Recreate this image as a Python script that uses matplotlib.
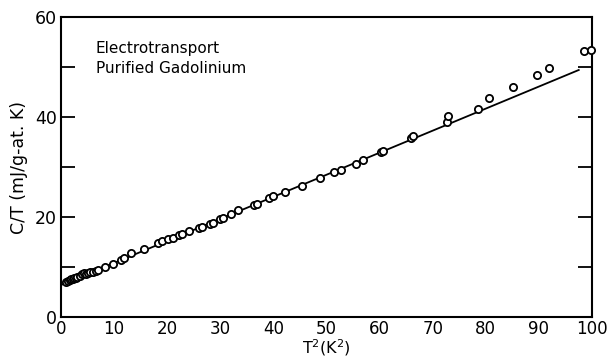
import numpy as np
import matplotlib
matplotlib.use("Agg")
import matplotlib.pyplot as plt

# measured points, T^2 (K^2) vs C/T (mJ/g-at. K)
t2 = [1.0, 1.3, 1.6, 1.9, 2.2, 2.5, 2.8, 3.1, 3.5, 3.9, 4.3, 4.7, 5.1, 5.5,
      6.0, 6.5, 7.0, 8.2, 9.7, 11.3, 11.8, 13.2, 15.7, 18.2, 19.0, 20.1, 21.0,
      22.3, 22.8, 24.1, 26.0, 26.5, 28.0, 28.6, 30.0, 30.5, 32.1, 33.3, 36.3,
      36.9, 39.2, 39.9, 42.2, 45.3, 48.8, 51.5, 52.8, 55.6, 56.9, 60.2, 60.6,
      65.9, 66.2, 72.6, 72.8, 78.5, 80.6, 85.2, 89.6, 91.9, 98.5, 99.9]
c_over_t = [7.1, 7.3, 7.4, 7.6, 7.6, 7.8, 7.9, 8.1, 8.3, 8.6, 8.8, 8.7, 8.8, 9.0,
            9.1, 9.3, 9.4, 10.1, 10.7, 11.5, 11.8, 12.8, 13.6, 14.9, 15.3, 15.6, 15.9,
            16.5, 16.6, 17.2, 17.9, 18.0, 18.7, 18.9, 19.6, 19.8, 20.7, 21.5, 22.5,
            22.7, 23.9, 24.3, 25.1, 26.3, 27.9, 29.0, 29.5, 30.7, 31.5, 33.0, 33.3,
            35.9, 36.3, 39.0, 40.3, 41.6, 43.9, 46.0, 48.4, 49.8, 53.3, 53.5]

# fitted straight line
fit_x = [0.0, 97.5]
fit_y = [6.4, 49.4]

plt.rcParams['font.family'] = ['DejaVu Sans']

fig = plt.figure(figsize=(6.09, 3.58), dpi=100)
ax = fig.add_axes([0.1002, 0.1145, 0.8719, 0.838])

ax.plot(fit_x, fit_y, color='black', lw=1.3)
ax.plot(t2, c_over_t, 'o', mfc='white', mec='black', ms=5.2, mew=1.3,
        clip_on=False, zorder=3)

ax.set_xlim(0, 100)
ax.set_ylim(0, 60)
ax.set_xticks(range(0, 101, 10))
ax.set_yticks([0, 20, 40, 60])
ax.set_yticks([10, 30, 50], minor=True)
ax.tick_params(axis='x', length=0, labelsize=12, pad=2)
ax.tick_params(axis='y', which='both', direction='in', length=10, width=1.3,
               right=True, labelsize=12.5, pad=3)
for s in ax.spines.values():
    s.set_linewidth(1.5)

ax.set_xlabel('T$^2$(K$^2$)', fontsize=11.5)
ax.xaxis.set_label_coords(0.5, -0.066)
ax.set_ylabel('C/T (mJ/g-at. K)', fontsize=12.5, labelpad=5)

ax.text(6.5, 55.3, 'Electrotransport\nPurified Gadolinium', fontsize=11,
        va='top', ha='left', linespacing=1.45)

fig.savefig('out.png', dpi=100)
